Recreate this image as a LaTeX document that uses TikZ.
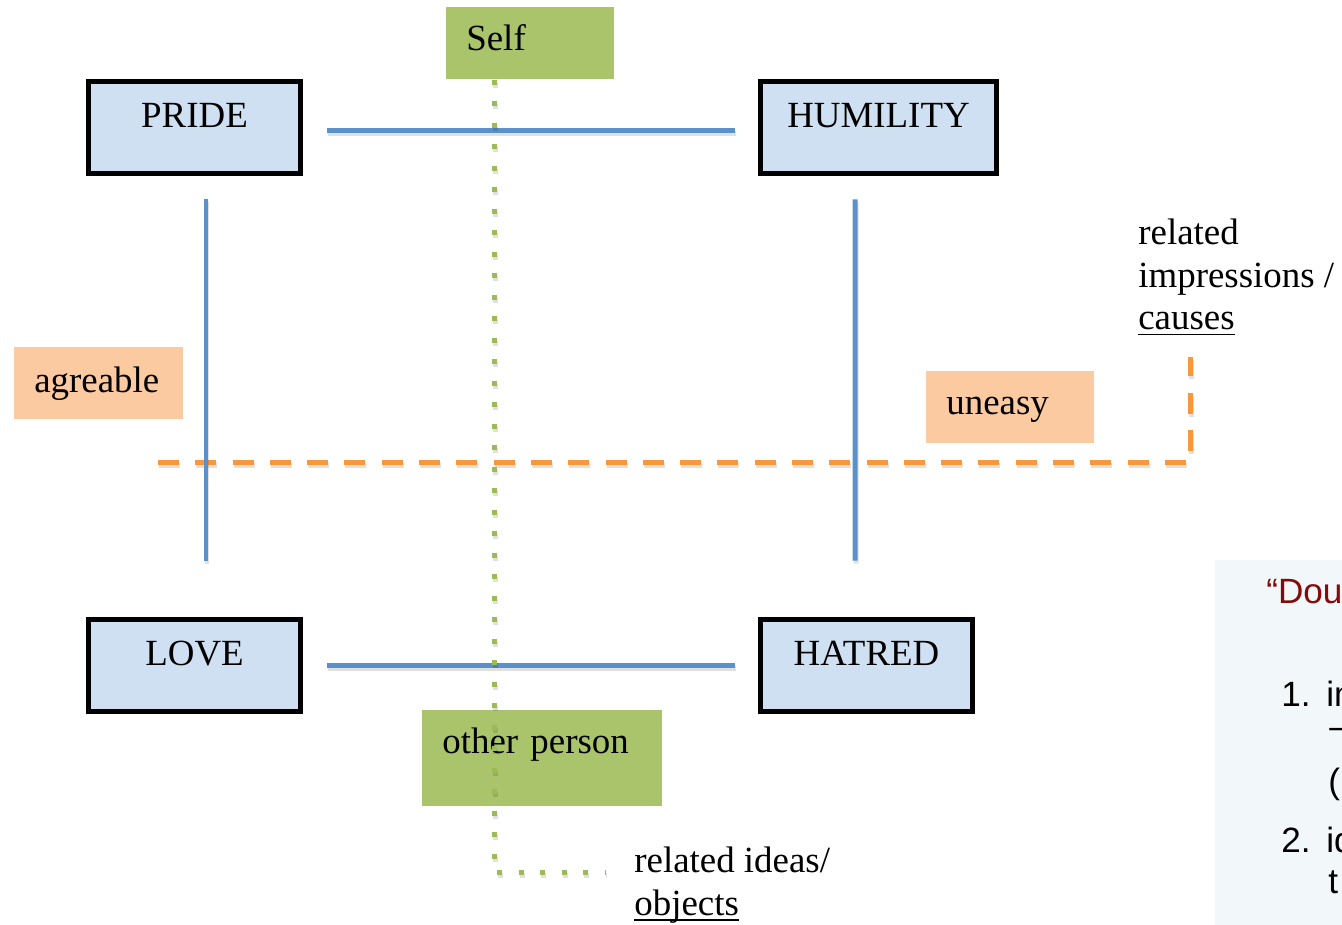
\documentclass[tikz,border=0pt]{standalone}
\usepackage{fontspec}
\setmainfont{Liberation Serif}
\newfontfamily\notefont{Liberation Sans}

\newcommand\wordline[1]{\setbox0\hbox{#1}\rlap{\rule[-0.11cm]{\wd0}{0.035cm}}\box0}

\definecolor{boxblue}{RGB}{207,224,242}
\definecolor{lineblue}{RGB}{91,145,203}
\definecolor{selfgreen}{RGB}{170,196,108}
\definecolor{dotgreen}{RGB}{155,187,89}
\definecolor{peach}{RGB}{251,202,161}
\definecolor{dashorange}{RGB}{250,150,60}
\definecolor{notebg}{RGB}{242,247,250}
\definecolor{notered}{RGB}{135,10,10}

\tikzset{
  passion/.style={draw=black, line width=0.1cm, fill=boxblue, minimum height=1.84cm, inner sep=0pt, text height=0.45cm, text depth=0.45cm},
  tag/.style={anchor=north west, inner xsep=0.4cm, inner ysep=0pt, align=left},
  relation/.style={draw=lineblue, line width=0.1cm, preaction={draw=black, opacity=0.12, line width=0.1cm, transform canvas={shift={(0.02cm,-0.06cm)}}}},
  feeling/.style={draw=dashorange, line width=0.1cm, dash pattern=on 0.42cm off 0.326cm, preaction={draw=black, opacity=0.12, line width=0.1cm, dash pattern=on 0.42cm off 0.326cm, transform canvas={shift={(0.02cm,-0.06cm)}}}},
  idealine/.style={draw=dotgreen, line width=0.1cm, dash pattern=on 0.1cm off 0.33cm, preaction={draw=black, opacity=0.12, line width=0.1cm, dash pattern=on 0.1cm off 0.33cm, transform canvas={shift={(0.02cm,-0.06cm)}}}},
  remark/.style={anchor=base west, inner sep=0pt, align=left},
  notetext/.style={anchor=base west, inner sep=0pt, font=\notefont\fontsize{20}{24}\selectfont}
}

\begin{document}
\begin{tikzpicture}[x=0.02cm, y=-0.02cm, font=\fontsize{21}{24.2}\selectfont]
\useasboundingbox (0,0) rectangle (1342,925);
\clip (0,0) rectangle (1342,925);

\node[passion, minimum width=4.24cm] (pride) at (194.5,127.5) {PRIDE};
\node[passion, minimum width=4.72cm] (humility) at (878.5,127.5) {HUMILITY};
\node[passion, minimum width=4.24cm] (love) at (194.5,665.5) {LOVE};
\node[passion, minimum width=4.24cm] (hatred) at (866.5,665.5) {HATRED};

\node[tag, fill=selfgreen, text width=2.56cm, text height=0.86cm, text depth=0.58cm] (self) at (446,7) {Self};
\node[tag, fill=selfgreen, text width=4.0cm, text height=0.86cm, text depth=1.06cm] (other) at (422,710) {other person};
\node[tag, fill=peach, text width=2.58cm, text height=0.9cm, text depth=0.54cm] (agreable) at (14,347) {agreable};
\node[tag, fill=peach, text width=2.56cm, text height=0.86cm, text depth=0.58cm] (uneasy) at (926,371) {uneasy};

\node[remark] (causes) at (1138,330) {related\\impressions /\\\wordline{causes}};
\node[remark] (ideas) at (634,915) {related ideas/\\\wordline{objects}};

\node[anchor=north west, fill=notebg, minimum width=3cm, minimum height=7.3cm, inner sep=0pt] (note) at (1215,560) {};
\node[notetext, text=notered] (title) at (1266,603) {“Dou};
\node[notetext] (num1) at (1281,706) {1.};
\node[notetext] (item1) at (1326,706) {im};
\node[notetext] (item1b) at (1329,738) {\textendash};
\node[notetext] (item1c) at (1328,793) {(};
\node[notetext] (num2) at (1281,852) {2.};
\node[notetext] (item2) at (1326,852) {id};
\node[notetext] (item2b) at (1328,893) {t};

\coordinate (feelstart) at (158,463);
\coordinate (feelend) at (1190,357);
\draw[feeling] (feelstart) -| (feelend);

\draw[relation, shorten <=0.48cm, shorten >=0.46cm] ([yshift=-0.07cm]pride.east) -- ([yshift=-0.07cm]humility.west);
\draw[relation, shorten <=0.48cm, shorten >=0.46cm] (love.east) -- (hatred.west);
\draw[relation, shorten <=0.47cm, shorten >=1.13cm] ([xshift=0.23cm]pride.south) -- ([xshift=0.23cm]love.north);
\draw[relation, shorten <=0.47cm, shorten >=1.13cm] ([xshift=-0.47cm]humility.south) -- ([xshift=-0.23cm]hatred.north);

\draw[idealine, shorten >=0.58cm] ([xshift=-0.72cm]self.south) |- ([yshift=0.854cm]ideas.base west);
\end{tikzpicture}
\end{document}
